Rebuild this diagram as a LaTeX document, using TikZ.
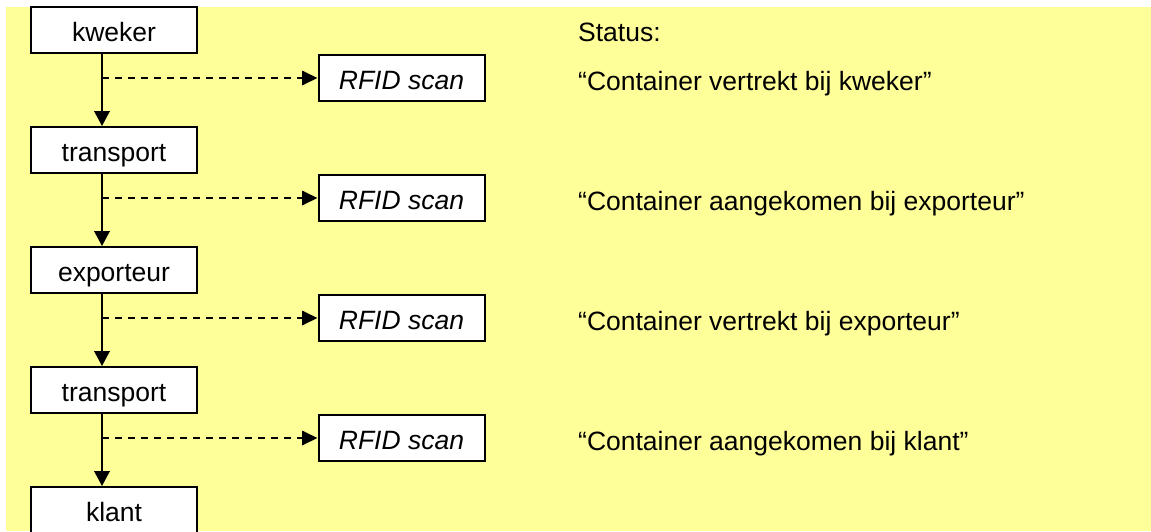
\documentclass[tikz,border=0pt]{standalone}
\usepackage{fontspec}
\setmainfont{Liberation Sans}
\usetikzlibrary{arrows.meta,positioning}
\definecolor{bgyellow}{RGB}{255,255,153}
\begin{document}
\begin{tikzpicture}[x=1pt,y=-1pt,
  font=\fontsize{26.5}{32}\selectfont,
  box/.style={draw=black,fill=white,line width=2pt,minimum width=166pt,minimum height=46pt,inner sep=0pt,text height=23pt,text depth=0pt},
  flow/.style={line width=2pt,-{Triangle[length=15pt,width=15.5pt]}},
  scanline/.style={line width=1.8pt,dash pattern=on 7pt off 6pt,-{Triangle[length=15.5pt,width=14.5pt]}},
  status/.style={anchor=base west,inner sep=0pt}]
\useasboundingbox (0,0) rectangle (1151,531);
\clip (0,0) rectangle (1151,531);
\fill[bgyellow] (6,7) rectangle (1151,531);
% left chain
\node[box] (kweker) at (114,30) {kweker};
\node[box] (transportA) at (114,150) {transport};
\node[box] (exporteur) at (114,270) {exporteur};
\node[box] (transportB) at (114,390) {transport};
\node[box] (klant) at (114,510) {klant};
% RFID boxes
\node[box,font=\fontsize{26.5}{32}\selectfont\itshape] (rfidA) at (401.5,78) {RFID scan};
\node[box,font=\fontsize{26.5}{32}\selectfont\itshape] (rfidB) at (401.5,198) {RFID scan};
\node[box,font=\fontsize{26.5}{32}\selectfont\itshape] (rfidC) at (401.5,318) {RFID scan};
\node[box,font=\fontsize{26.5}{32}\selectfont\itshape] (rfidD) at (401.5,438) {RFID scan};
% vertical connectors
\coordinate (kA) at ([xshift=-12pt]kweker.south);
\coordinate (kB) at ([xshift=-12pt]transportA.south);
\coordinate (kC) at ([xshift=-12pt]exporteur.south);
\coordinate (kD) at ([xshift=-12pt]transportB.south);
\draw[flow] (kA) -- ([xshift=-12pt]transportA.north);
\draw[flow] (kB) -- ([xshift=-12pt]exporteur.north);
\draw[flow] (kC) -- ([xshift=-12pt]transportB.north);
\draw[flow] (kD) -- ([xshift=-12pt]klant.north);
% dashed scans
\draw[scanline] (rfidA.west -| kA) -- (rfidA.west);
\draw[scanline] (rfidB.west -| kB) -- (rfidB.west);
\draw[scanline] (rfidC.west -| kC) -- (rfidC.west);
\draw[scanline] (rfidD.west -| kD) -- (rfidD.west);
% status texts
\node[status] (sthead) at (578,41) {Status:};
\node[status] (stA) at (578,90) {“Container vertrekt bij kweker”};
\node[status] (stB) at (578,210) {“Container aangekomen bij exporteur”};
\node[status] (stC) at (578,330) {“Container vertrekt bij exporteur”};
\node[status] (stD) at (578,450) {“Container aangekomen bij klant”};
\end{tikzpicture}
\end{document}
